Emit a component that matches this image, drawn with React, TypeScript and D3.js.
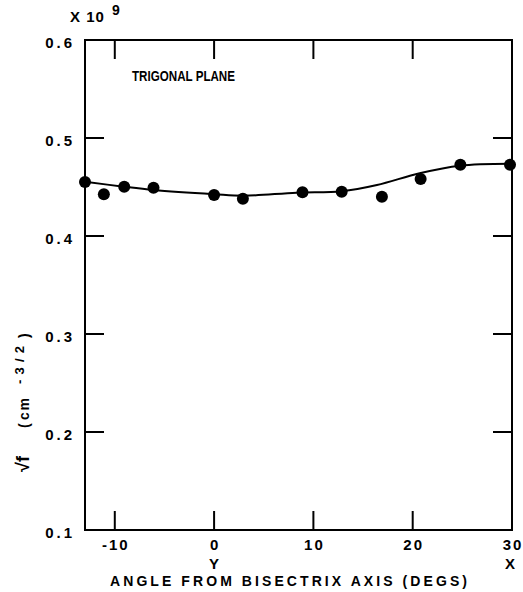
import React from "react"
import * as d3 from "d3"

// measured points (angle in degs, sqrt f in units of 1e9 cm^-3/2)
const pointAngles = [-13, -11.1, -9.05, -6.1, 0, 2.9, 8.9, 12.85, 16.9, 20.8, 24.8, 29.8]
const pointValues = [0.455, 0.4426, 0.4503, 0.4493, 0.4418, 0.4381, 0.4446, 0.4452, 0.4401, 0.4582, 0.4728, 0.4728]

// fitted curve
const curveAngles = [-13, -9.1, -6.1, 0, 3, 8.3, 12.85, 16.4, 20.7, 24.75, 30]
const curveValues = [0.4554, 0.4503, 0.4469, 0.4426, 0.4411, 0.4442, 0.4456, 0.452, 0.464, 0.4717, 0.4737]

const xTicks = [-10, 0, 10, 20, 30]
const yTicks = [0.1, 0.2, 0.3, 0.4, 0.5, 0.6]

const font = "'Liberation Sans', Arial, sans-serif"

export default function App() {
  const left = 85
  const right = 512
  const top = 40
  const bottom = 530
  const tickLen = 19

  const x = d3.scaleLinear().domain([-13, 30]).range([left, right])
  const y = d3.scaleLinear().domain([0.1, 0.6]).range([bottom, top])

  const line = d3
    .line<number>()
    .x((d, i) => x(curveAngles[i]))
    .y(d => y(d))
    .curve(d3.curveCatmullRom)

  return (
    <svg
      width={523}
      height={592}
      style={{ position: "absolute", left: 0, top: 0, background: "#fff" }}
      fontFamily={font}
      fontWeight="bold"
    >
      <rect x={left} y={top} width={right - left} height={bottom - top} fill="none" stroke="#000" strokeWidth={2} />

      {/* x ticks, bottom and top */}
      {xTicks.filter(t => t < 30).map(t => (
        <g key={"xt" + t}>
          <line x1={x(t)} x2={x(t)} y1={bottom} y2={bottom - tickLen} stroke="#000" strokeWidth={2} />
          <line x1={x(t)} x2={x(t)} y1={top} y2={top + tickLen} stroke="#000" strokeWidth={2} />
        </g>
      ))}
      {xTicks.map(t => (
        <text key={"xl" + t} x={x(t) + 1} y={550} textAnchor="middle" fontSize={15} letterSpacing={2}>
          {t < 0 ? "-" + Math.abs(t) : t}
        </text>
      ))}
      <text x={x(0)} y={569} textAnchor="middle" fontSize={15}>Y</text>
      <text x={x(30) - 2} y={569} textAnchor="middle" fontSize={15}>X</text>

      {/* y ticks, left and right */}
      {yTicks.filter(t => t > 0.1 && t < 0.6).map(t => (
        <g key={"yt" + t}>
          <line x1={left} x2={left + tickLen} y1={y(t)} y2={y(t)} stroke="#000" strokeWidth={2} />
          <line x1={right} x2={right - tickLen} y1={y(t)} y2={y(t)} stroke="#000" strokeWidth={2} />
        </g>
      ))}
      {yTicks.map(t => (
        <text key={"yl" + t} x={75} y={y(t) + 8} textAnchor="end" fontSize={15} letterSpacing={3}>
          {t.toFixed(1)}
        </text>
      ))}

      {/* fitted curve */}
      <path d={line(curveValues) || ""} fill="none" stroke="#000" strokeWidth={2} />

      {/* data points */}
      {pointValues.map((v, i) => (
        <circle key={i} cx={x(pointAngles[i])} cy={y(v)} r={6} fill="#000" />
      ))}

      {/* labels */}
      <text x={132} y={81} fontSize={14} textLength={103} lengthAdjust="spacingAndGlyphs">TRIGONAL PLANE</text>
      <text x={70} y={22} fontSize={15} letterSpacing={1}>X 10</text>
      <text x={112} y={15} fontSize={14}>9</text>
      <text x={110} y={586} fontSize={14} textLength={357} lengthAdjust="spacing">
        ANGLE FROM BISECTRIX AXIS (DEGS)
      </text>

      <text transform="translate(29,472) rotate(-90)" fontSize={14}>
        <tspan x={0} fontSize={18}>√f</tspan>
        <tspan x={44}>(</tspan>
        <tspan x={52} textLength={22} lengthAdjust="spacing">cm</tspan>
        <tspan x={88} dy={-5} fontSize={13} textLength={38} lengthAdjust="spacing">-3/2</tspan>
        <tspan x={134} dy={5}>)</tspan>
      </text>
    </svg>
  )
}
